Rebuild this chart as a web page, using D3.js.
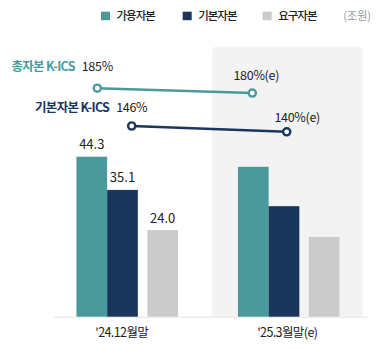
<!DOCTYPE html>
<html>
<head>
<meta charset="utf-8">
<script src="https://cdn.jsdelivr.net/npm/d3@7"></script>
<style>
  html, body { margin: 0; padding: 0; background: #fff; }
  svg { display: block; font-family: "Noto Sans CJK KR", "Noto Sans", sans-serif; }
</style>
</head>
<body>
<svg id="chart" width="376" height="349"></svg>
<script>
// Capital amounts (조원) by period
const categories = ["'24.12월말", "'25.3월말(e)"];
const seriesNames = ["가용자본", "기본자본", "요구자본"];
const availableCapital = [44.3, 41.5];
const basicCapital = [35.1, 30.6];
const requiredCapital = [24.0, 22.1];
const barLabels = ["44.3", "35.1", "24.0"]; // labelled values for the first period only

// K-ICS ratios (%)
const ratioNames = ["총자본 K-ICS", "기본자본 K-ICS"];
const totalKics = [185, 180];
const basicKics = [146, 140];
const ratioLabels = [["185%", "180%(e)"], ["146%", "140%(e)"]];

const unitLabel = "(조원)";

const colors = ["#4a9a9c", "#1b365c", "#cbcbcb"];
const svg = d3.select("#chart");

const baseline = 316.7;
const barW = 30.7;

// group band and within-group bar offsets
const x0 = d3.scaleBand().domain(categories).range([46.5, 369.5]).padding(0);
const x1 = d3.scaleOrdinal().domain(seriesNames).range([0, 1, 2.31]);
const groupW = barW * 3.31;
const y = d3.scaleLinear().domain([0, 50]).range([baseline, baseline - 50 * 3.612]);

// shaded panel behind the estimate period
const panelX = x0(categories[1]) + x0.bandwidth() / 2 - 76.5;
svg.append("path")
  .attr("d", () => {
    const x = panelX, w = 150.5, top = 47, r = 3;
    return `M${x},${baseline}V${top + r}Q${x},${top} ${x + r},${top}H${x + w - r}Q${x + w},${top} ${x + w},${top + r}V${baseline}Z`;
  })
  .attr("fill", "#f3f3f3");

// baseline
svg.append("line")
  .attr("x1", 54).attr("x2", 368)
  .attr("y1", baseline + 0.5).attr("y2", baseline + 0.5)
  .attr("stroke", "#e4e4e4").attr("stroke-width", 1);

// bars
const seriesValues = [availableCapital, basicCapital, requiredCapital];
const barData = [];
categories.forEach((c, ci) => {
  seriesNames.forEach((s, si) => {
    barData.push({ cat: c, ci, series: s, si, value: seriesValues[si][ci] });
  });
});

const groupLeft = c => x0(c) + x0.bandwidth() / 2 - groupW / 2;

svg.append("g").selectAll("rect")
  .data(barData)
  .join("rect")
  .attr("x", d => groupLeft(d.cat) + x1(d.series) * barW)
  .attr("y", d => y(d.value))
  .attr("width", barW)
  .attr("height", d => baseline - y(d.value))
  .attr("fill", d => colors[d.si]);

// value labels (first period)
svg.append("g").selectAll("text")
  .data(barData.filter(d => d.ci === 0))
  .join("text")
  .attr("x", d => groupLeft(d.cat) + x1(d.series) * barW + barW / 2)
  .attr("y", d => y(d.value) - 7.5)
  .attr("text-anchor", "middle")
  .attr("font-size", 13)
  .attr("fill", "#222")
  .text(d => barLabels[d.si]);

// category axis labels
const xAxis = d3.axisBottom(x0).tickSize(0).tickPadding(0);
const axisG = svg.append("g").attr("transform", `translate(0,${baseline})`).call(xAxis);
axisG.select(".domain").remove();
axisG.selectAll(".tick text")
  .attr("y", 20.5)
  .attr("dy", 0)
  .attr("dx", (d, i) => i === 0 ? -5.5 : -1.5)
  .attr("font-size", 12.5)
  .attr("letter-spacing", "-0.6px")
  .attr("font-family", "'Noto Sans CJK KR', sans-serif")
  .attr("fill", "#222");

// ratio lines
const yr = d3.scaleLinear().domain([140, 185]).range([131.8, 88.2]);
const lineX = d3.scalePoint().domain(categories).range([97.3, 252.3]);
const ratioSeries = [
  { name: ratioNames[0], values: totalKics, color: "#4a9a9c", shift: 0, startDy: -17, endDy: -13, endDx: 4 },
  { name: ratioNames[1], values: basicKics, color: "#1b365c", shift: 34.4, startDy: -14, endDy: -10, endDx: 10.5 }
];

const line = d3.line().x(d => d.x).y(d => d.y);

ratioSeries.forEach((s, si) => {
  const pts = s.values.map((v, i) => ({ x: lineX(categories[i]) + s.shift, y: yr(v) }));
  const g = svg.append("g");
  g.append("path")
    .attr("d", line(pts))
    .attr("fill", "none")
    .attr("stroke", s.color)
    .attr("stroke-width", 2.6);
  g.selectAll("circle")
    .data(pts)
    .join("circle")
    .attr("cx", d => d.x).attr("cy", d => d.y)
    .attr("r", 3.6)
    .attr("fill", "#fff")
    .attr("stroke", s.color)
    .attr("stroke-width", 2.4);
  // value labels
  g.selectAll("text.val")
    .data(pts)
    .join("text")
    .attr("class", "val")
    .attr("x", (d, i) => i === 0 ? d.x : d.x + s.endDx)
    .attr("y", (d, i) => d.y + (i === 0 ? s.startDy : s.endDy))
    .attr("text-anchor", "middle")
    .attr("font-size", 12.5)
    .attr("letter-spacing", "-0.3px")
    .attr("fill", "#222")
    .text((d, i) => ratioLabels[si][i]);
  // series name
  g.append("text")
    .attr("x", pts[0].x - 22.5)
    .attr("y", pts[0].y + s.startDy)
    .attr("text-anchor", "end")
    .attr("font-size", 12.5)
    .attr("font-weight", 700)
    .attr("letter-spacing", "-0.7px")
    .attr("fill", s.color)
    .text(s.name);
});

// legend
const legendX = [101, 182.7, 262.7];
const legend = svg.append("g").selectAll("g")
  .data(seriesNames)
  .join("g")
  .attr("transform", (d, i) => `translate(${legendX[i]},11.7)`);
legend.append("rect")
  .attr("width", 9).attr("height", 8.5)
  .attr("fill", (d, i) => colors[i]);
legend.append("text")
  .attr("x", 15.5).attr("y", 8.6)
  .attr("font-size", 11.5)
  .attr("font-weight", 500)
  .attr("letter-spacing", "-1px")
  .attr("fill", "#222")
  .text(d => d);

svg.append("text")
  .attr("x", 371).attr("y", 20.3)
  .attr("text-anchor", "end")
  .attr("font-size", 11)
  .attr("fill", "#999")
  .text(unitLabel);
</script>
</body>
</html>
